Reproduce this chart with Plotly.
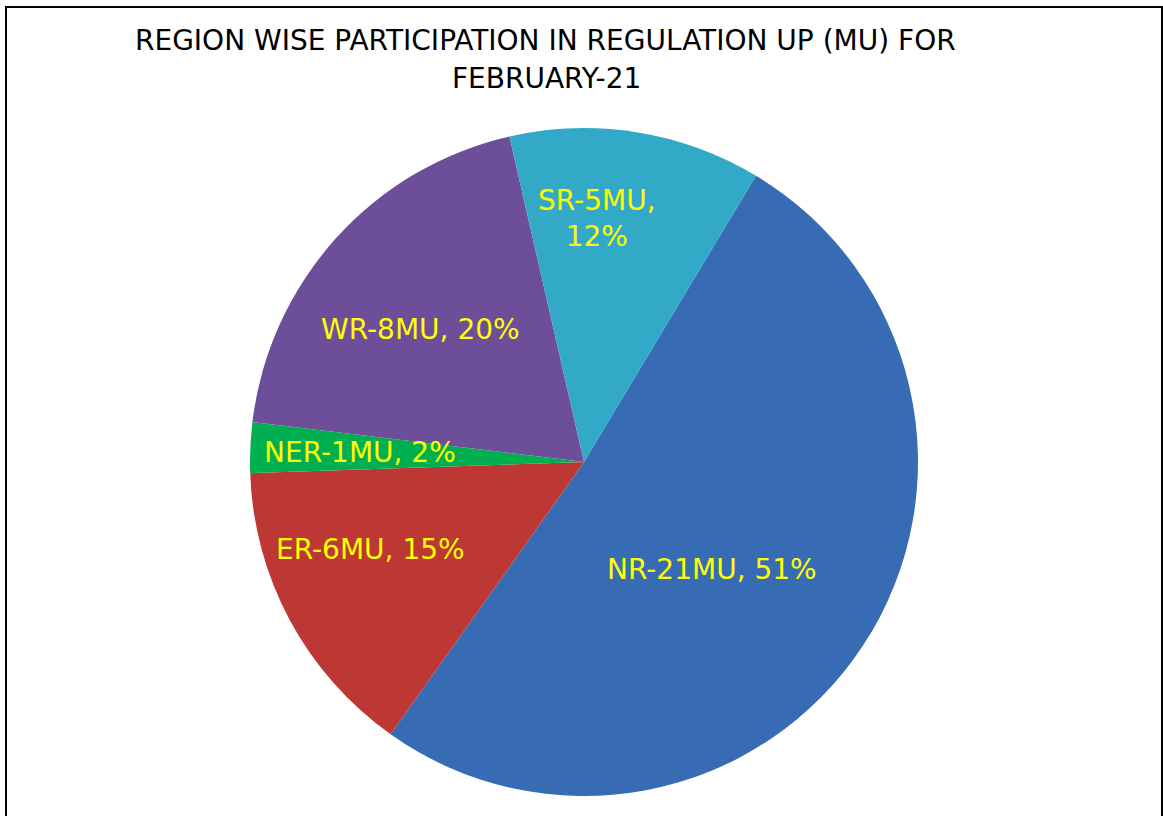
import math
import plotly.graph_objects as go

# ---- data ----
regions = ["NR", "ER", "NER", "WR", "SR"]
values_mu = [21, 6, 1, 8, 5]
pct_labels = ["51%", "15%", "2%", "20%", "12%"]

# ---- style ----
colors = ["#376CB4", "#BD3834", "#00B050", "#6D4E98", "#33A9C8"]
W, H = 1163, 816
cx, cy, R = 584, 462, 334          # pie centre / radius in pixels
start_angle = 31                   # degrees clockwise from 12 o'clock
label_r = {"NR": 0.50, "ER": 0.69, "NER": 0.67, "WR": 0.63, "SR": 0.73}
label_da = {"NR": 7, "ER": 6, "NER": 0, "WR": -3, "SR": -6}
two_line = {"SR"}
FONT = "DejaVu Sans"

fig = go.Figure()
fig.add_trace(go.Pie(
    labels=regions, values=values_mu, sort=False, direction="clockwise",
    rotation=start_angle, textinfo="none", hoverinfo="label+value+percent",
    marker=dict(colors=colors, line=dict(width=0)),
    domain=dict(x=[(cx - R) / W, (cx + R) / W], y=[1 - (cy + R) / H, 1 - (cy - R) / H]),
    showlegend=False,
))

total = sum(values_mu)
acc = 0
annotations = []
for name, v, p in zip(regions, values_mu, pct_labels):
    mid = start_angle + (acc + v / 2) / total * 360 + label_da[name]
    acc += v
    a = math.radians(mid)
    px = cx + label_r[name] * R * math.sin(a)
    py = cy - label_r[name] * R * math.cos(a)
    sep = ",<br>" if name in two_line else ", "
    annotations.append(dict(
        x=px / W, y=1 - py / H, xref="paper", yref="paper",
        text=f"{name}-{v}MU{sep}{p}", showarrow=False,
        font=dict(family=FONT, size=28, color="#FFFF00"),
        xanchor="center", yanchor="middle",
    ))

annotations.append(dict(x=545 / W, y=1 - 40 / H, xref="paper", yref="paper",
                        text="REGION WISE PARTICIPATION IN REGULATION UP (MU) FOR",
                        showarrow=False, font=dict(family=FONT, size=28, color="#000000"),
                        xanchor="center", yanchor="middle"))
annotations.append(dict(x=546 / W, y=1 - 78 / H, xref="paper", yref="paper",
                        text="FEBRUARY-21",
                        showarrow=False, font=dict(family=FONT, size=28, color="#000000"),
                        xanchor="center", yanchor="middle"))

fig.update_layout(
    width=W, height=H, margin=dict(l=0, r=0, t=0, b=0),
    paper_bgcolor="white", plot_bgcolor="white",
    annotations=annotations,
    shapes=[dict(type="rect", xref="paper", yref="paper",
                 x0=6 / W, x1=1162 / W, y0=-0.05, y1=1 - 7 / H,
                 line=dict(color="#000000", width=2))],
)
fig.write_html("out.html", config={"displayModeBar": False},
               post_script="document.body.style.margin='0';")
